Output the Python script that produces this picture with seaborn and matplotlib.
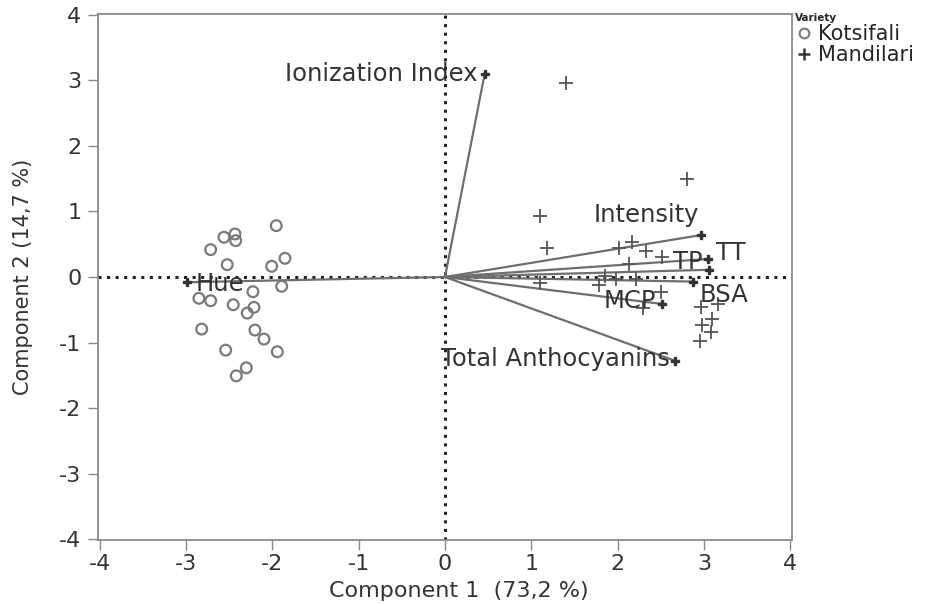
import matplotlib
matplotlib.use("Agg")
import matplotlib.pyplot as plt
import seaborn as sns
import pandas as pd
from matplotlib.lines import Line2D

# ---- data ----
kots_x = [-1.955, -2.561, -2.433, -2.425, -2.715, -1.854, -2.523, -2.008, -1.892, -2.225, -2.851,
          -2.715, -2.453, -2.213, -2.291, -2.819, -2.202, -2.097, -2.541, -1.943, -2.302, -2.418]
kots_y = [0.783, 0.606, 0.656, 0.554, 0.417, 0.285, 0.188, 0.163, -0.142, -0.224, -0.325,
          -0.362, -0.423, -0.463, -0.550, -0.794, -0.809, -0.947, -1.115, -1.140, -1.385, -1.507]
mand_x = [1.40, 2.80, 1.097, 1.186, 2.016, 2.163, 2.325, 2.511, 2.132, 1.854, 1.978, 2.21,
          1.097, 1.784, 2.499, 2.294, 2.963, 3.167, 3.097, 2.974, 3.079, 2.951]
mand_y = [2.96, 1.496, 0.936, 0.438, 0.438, 0.530, 0.402, 0.300, 0.198, 0.02, -0.03, -0.03,
          -0.09, -0.122, -0.224, -0.478, -0.463, -0.412, -0.641, -0.733, -0.845, -0.972]

vars_names = ["Ionization Index", "Intensity", "TP", "TT", "BSA", "MCP", "Total Anthocyanins", "Hue"]
vars_x = [0.46, 2.97, 3.05, 3.06, 2.87, 2.51, 2.67, -2.99]
vars_y = [3.10, 0.64, 0.275, 0.11, -0.07, -0.41, -1.28, -0.08]

x_ticks = [-4, -3, -2, -1, 0, 1, 2, 3, 4]
y_ticks = [-4, -3, -2, -1, 0, 1, 2, 3, 4]

df = pd.DataFrame({
    "c1": kots_x + mand_x,
    "c2": kots_y + mand_y,
    "Variety": ["Kotsifali"] * len(kots_x) + ["Mandilari"] * len(mand_x),
})

sns.set_style("white")
plt.rcParams["font.family"] = ["DejaVu Sans"]

fig = plt.figure(figsize=(9.47, 6.05), dpi=100)
ax = fig.add_axes([0.1035, 0.1074, 0.7328, 0.8695])

# reference lines
ax.axvline(0, color="#222222", ls=(0, (1, 1.8)), lw=2.2, zorder=1)
ax.axhline(0, color="#222222", ls=(0, (1, 1.8)), lw=2.2, zorder=1)

# scores
sub_k = df[df.Variety == "Kotsifali"]
sub_m = df[df.Variety == "Mandilari"]
sns.scatterplot(data=sub_k, x="c1", y="c2", ax=ax, marker="o", s=60,
                facecolor="none", edgecolor="#7a7a7a", linewidth=1.6, legend=False, zorder=3)
sns.scatterplot(data=sub_m, x="c1", y="c2", ax=ax, marker="+", s=90,
                color="#555555", linewidth=1.3, legend=False, zorder=3)

# loadings
for name, vx, vy in zip(vars_names, vars_x, vars_y):
    ax.plot([0, vx], [0, vy], color="#6e6e6e", lw=1.6, zorder=2)
    ax.plot([vx], [vy], marker="P", color="#333333", ms=6, zorder=4)

lab = dict(fontsize=17.5, color="#333333", zorder=5)
ax.text(vars_x[0] - 0.08, vars_y[0], "Ionization Index", ha="right", va="center", **lab)
ax.text(vars_x[1] - 0.03, vars_y[1] + 0.12, "Intensity", ha="right", va="bottom", **lab)
ax.text(vars_x[2] - 0.06, vars_y[2] - 0.04, "TP", ha="right", va="center", **lab)
ax.text(vars_x[3] + 0.08, vars_y[3] + 0.25, "TT", ha="left", va="center", **lab)
ax.text(vars_x[4] + 0.08, vars_y[4] - 0.21, "BSA", ha="left", va="center", **lab)
ax.text(vars_x[5] - 0.06, vars_y[5] + 0.04, "MCP", ha="right", va="center", **lab)
ax.text(vars_x[6] - 0.06, vars_y[6] + 0.03, "Total Anthocyanins", ha="right", va="center", **lab)
ax.text(vars_x[7] + 0.1, vars_y[7] - 0.02, "Hue", ha="left", va="center", **lab)

ax.set_xlim(-4.02, 4.02)
ax.set_ylim(-4.01, 4.01)
ax.set_xticks(x_ticks)
ax.set_yticks(y_ticks)
ax.set_xticklabels([str(t) for t in x_ticks], fontsize=16, color="#333333")
ax.set_yticklabels([str(t) for t in y_ticks], fontsize=16, color="#333333")
ax.tick_params(axis="both", direction="out", length=7, width=1, color="#888888",
               bottom=True, left=True, top=False, right=False, pad=3)
ax.tick_params(axis="y", pad=5)
for sp in ax.spines.values():
    sp.set_color("#8a8a8a")
    sp.set_linewidth(1.3)
    sp.set_visible(True)

ax.set_xlabel("Component 1  (73,2 %)", fontsize=16, color="#333333")
ax.xaxis.set_label_coords(0.52, -0.078)
ax.set_ylabel("Component 2 (14,7 %)", fontsize=15, color="#333333")
ax.yaxis.set_label_coords(-0.094, 0.5)

handles = [
    Line2D([], [], marker="o", ls="none", mfc="none", mec="#7a7a7a", ms=7, mew=1.5),
    Line2D([], [], marker="+", ls="none", color="#333333", ms=9, mew=1.8),
]
leg = ax.legend(handles, ["Kotsifali", "Mandilari"], title="Variety",
                loc="upper left", bbox_to_anchor=(0.993, 1.018), frameon=False,
                fontsize=15, handlelength=0.8, handletextpad=0.3, borderaxespad=0.0,
                labelspacing=0.05)
leg.get_title().set_fontsize(7.5)
leg.get_title().set_fontweight("bold")
leg._legend_box.align = "left"

fig.savefig("out.png", dpi=100)
